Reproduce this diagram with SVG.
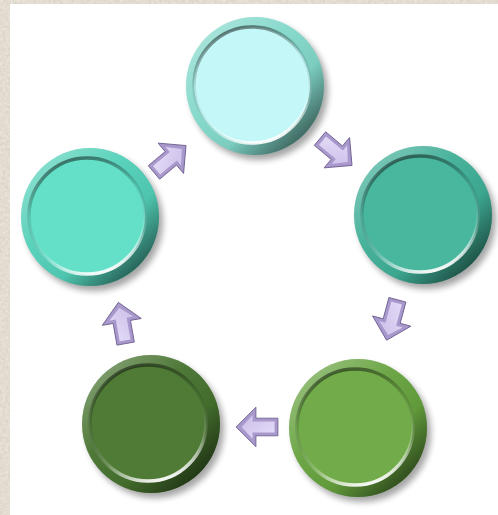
<svg xmlns="http://www.w3.org/2000/svg" width="498" height="515" viewBox="0 0 498 515">
<defs>
<filter id="paper" x="0" y="0" width="100%" height="100%">
<feTurbulence type="fractalNoise" baseFrequency="0.35" numOctaves="3" seed="4" result="n"/>
<feColorMatrix in="n" type="matrix" values="0 0 0 0 0.84  0 0 0 0 0.80  0 0 0 0 0.74  0 0 0 -1.2 1.1" result="c"/>
<feComposite in="c" in2="SourceGraphic" operator="in"/>
</filter>
<filter id="blur" x="-30%" y="-30%" width="160%" height="160%"><feGaussianBlur stdDeviation="3"/></filter>
<linearGradient id="ringShade" x1="0.15" y1="0.1" x2="0.9" y2="0.9">
<stop offset="0" stop-color="#fff" stop-opacity="0.3"/>
<stop offset="0.35" stop-color="#fff" stop-opacity="0.05"/>
<stop offset="0.65" stop-color="#000" stop-opacity="0.05"/>
<stop offset="1" stop-color="#000" stop-opacity="0.6"/>
</linearGradient>
<linearGradient id="rimShade" x1="0.3" y1="0" x2="0.6" y2="1">
<stop offset="0" stop-color="#000" stop-opacity="0.5"/>
<stop offset="0.4" stop-color="#000" stop-opacity="0.1"/>
<stop offset="0.75" stop-color="#fff" stop-opacity="0.2"/>
<stop offset="1" stop-color="#fff" stop-opacity="0.95"/>
</linearGradient>
<linearGradient id="arrowFace" x1="0" y1="0" x2="1" y2="1">
<stop offset="0" stop-color="#e6def8"/>
<stop offset="1" stop-color="#cbbde9"/>
</linearGradient>
<g id="arrow">
<path d="M-19,-8 L1,-8 L1,-18 L19,0 L1,18 L1,8 L-19,8 Z" fill="#a898cc" stroke="#6e6090" stroke-width="0.8"/>
<path d="M-16,-5 L4,-5 L4,-11 L14,0 L4,11 L4,5 L-16,5 Z" fill="url(#arrowFace)"/>
</g>
</defs>
<style>
.ringov{fill:url(#ringShade)}
.rim{fill:none;stroke:url(#rimShade);stroke-width:3.5}
.face{stroke:none}
.shadow{fill:#000;opacity:0.35}
</style>
<rect x="0" y="0" width="498" height="515" fill="#d9d0c1"/>
<rect x="0" y="0" width="498" height="515" fill="#d9d0c1" filter="url(#paper)"/>
<rect x="10" y="4" width="488" height="511" fill="#ffffff"/>

<g id="node-top" transform="translate(255,86)">
<circle class="shadow" cx="4" cy="5" r="69" filter="url(#blur)"/>
<circle r="69" fill="#82d8ca"/>
<circle r="69" class="ringov"/>
<circle cx="-3" cy="-1" r="58" class="face" fill="#c4f8f8"/>
<circle cx="-3" cy="-1" r="58" class="rim"/>
</g>

<g id="node-right" transform="translate(423,215)">
<circle class="shadow" cx="4" cy="5" r="69" filter="url(#blur)"/>
<circle r="69" fill="#3fae96"/>
<circle r="69" class="ringov"/>
<circle cx="-3" cy="-1" r="58" class="face" fill="#49b69e"/>
<circle cx="-3" cy="-1" r="58" class="rim"/>
</g>

<g id="node-bottom-right" transform="translate(358,428)">
<circle class="shadow" cx="4" cy="5" r="69" filter="url(#blur)"/>
<circle r="69" fill="#66a23e"/>
<circle r="69" class="ringov"/>
<circle cx="-3" cy="-1" r="58" class="face" fill="#72ab4a"/>
<circle cx="-3" cy="-1" r="58" class="rim"/>
</g>

<g id="node-bottom-left" transform="translate(151,424)">
<circle class="shadow" cx="4" cy="5" r="69" filter="url(#blur)"/>
<circle r="69" fill="#46722e"/>
<circle r="69" class="ringov"/>
<circle cx="-3" cy="-1" r="58" class="face" fill="#4f7b36"/>
<circle cx="-3" cy="-1" r="58" class="rim"/>
</g>

<g id="node-left" transform="translate(90,217)">
<circle class="shadow" cx="4" cy="5" r="69" filter="url(#blur)"/>
<circle r="69" fill="#52d0b8"/>
<circle r="69" class="ringov"/>
<circle cx="-3" cy="-1" r="58" class="face" fill="#64e0c8"/>
<circle cx="-3" cy="-1" r="58" class="rim"/>
</g>

<g id="connectors">
<use href="#arrow" transform="translate(336,152) rotate(40) scale(1.1)"/>
<use href="#arrow" transform="translate(392,320) rotate(105) scale(1.1)"/>
<use href="#arrow" transform="translate(257,427) rotate(180) scale(1.1)"/>
<use href="#arrow" transform="translate(122,323) rotate(-100) scale(1.1)"/>
<use href="#arrow" transform="translate(170,159) rotate(-40) scale(1.1)"/>
</g>
</svg>
